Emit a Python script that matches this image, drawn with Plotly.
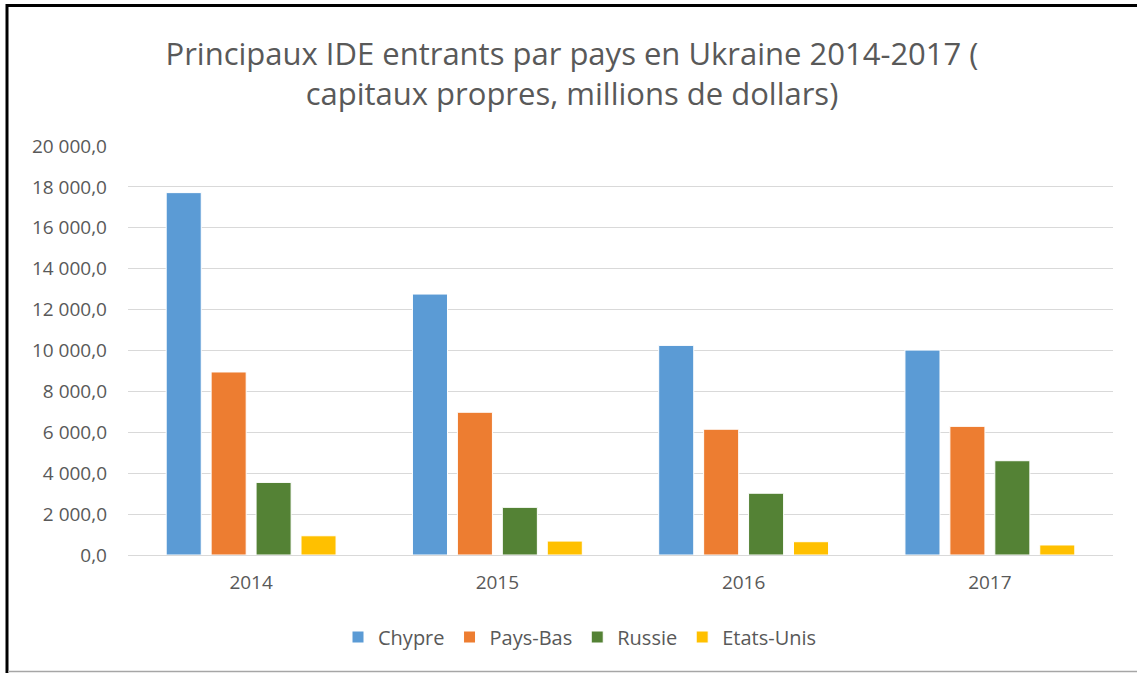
import plotly.graph_objects as go

annees = ['2014', '2015', '2016', '2017']
chypre = [17720, 12760, 10250, 10020]
pays_bas = [8950, 6980, 6150, 6290]
russie = [3550, 2330, 3020, 4610]
etats_unis = [940, 680, 650, 490]

series = [
    ('Chypre', chypre, '#5B9BD5'),
    ('Pays-Bas', pays_bas, '#ED7D31'),
    ('Russie', russie, '#548235'),
    ('Etats-Unis', etats_unis, '#FFC000'),
]

W, H = 1137, 673
ml, mr, mt, mb = 128, 24, 146, 118
police = "Open Sans"
gris_texte = "#595959"

fig = go.Figure()
for nom, valeurs, couleur in series:
    fig.add_trace(go.Bar(
        x=annees, y=valeurs, name=nom,
        marker=dict(color=couleur, line=dict(color='white', width=1)),
    ))

# conversion pixels -> coordonnées paper pour le cadre
pw, ph = W - ml - mr, H - mt - mb
def px_x(p):
    return (p - ml) / pw
def px_y(p):
    return (H - mb - p) / ph

fig.update_layout(
    width=W, height=H,
    margin=dict(l=ml, r=mr, t=mt, b=mb),
    paper_bgcolor='white', plot_bgcolor='white',
    barmode='group', bargap=0.27, bargroupgap=0.22,
    separators=', ',
    font=dict(family=police, color=gris_texte),
    title=dict(
        text="Principaux IDE entrants par pays en Ukraine 2014-2017 (<br>capitaux propres, millions de dollars)",
        x=572 / W, xref='container', xanchor='center',
        y=1 - 65 / H, yanchor='middle',
        font=dict(family=police, size=31, color=gris_texte),
    ),
    legend=dict(
        orientation='h', x=px_x(580), xanchor='center',
        y=px_y(637), yanchor='middle',
        font=dict(size=20, color=gris_texte), itemwidth=30,
    ),
    xaxis=dict(
        showgrid=False, showline=False, ticks='', ticklabelstandoff=14,
        tickfont=dict(size=19, color=gris_texte),
    ),
    yaxis=dict(
        range=[0, 20000], dtick=2000, tickformat=',.1f',
        showgrid=True, gridcolor='#D9D9D9', gridwidth=1,
        zeroline=True, zerolinecolor='#D9D9D9', zerolinewidth=1,
        showline=False, ticks='', ticklabelstandoff=20,
        tickfont=dict(size=19, color=gris_texte),
    ),
    shapes=[
        dict(type='line', xref='paper', yref='paper', x0=px_x(7), x1=px_x(7),
             y0=px_y(4), y1=px_y(673), line=dict(color='black', width=3)),
        dict(type='line', xref='paper', yref='paper', x0=px_x(6), x1=px_x(1137),
             y0=px_y(5.5), y1=px_y(5.5), line=dict(color='black', width=3)),
        dict(type='line', xref='paper', yref='paper', x0=px_x(8), x1=px_x(1137),
             y0=px_y(671.5), y1=px_y(671.5), line=dict(color='#A6A6A6', width=1.5)),
    ],
)

fig.write_html("out.html", config={'displayModeBar': False},
               post_script="document.body.style.margin='0';")
